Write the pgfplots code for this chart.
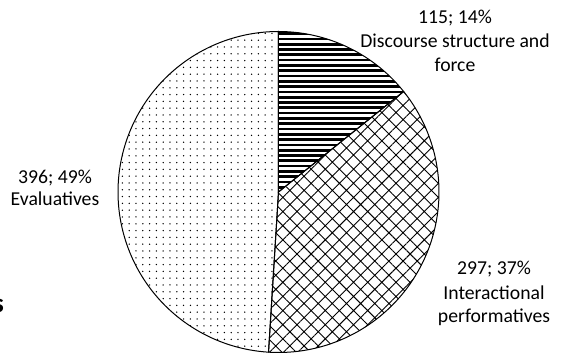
\documentclass[border=0pt]{standalone}
\usepackage{fontspec}
\setmainfont{Carlito}
\usepackage{pgfplots}
\usepackage{pgfplotstable}
\pgfplotsset{compat=1.18}
\usetikzlibrary{patterns.meta}

% solid horizontal stripes, drawn as filled bars so tiles overlap cleanly
\tikzdeclarepattern{
  name=hstripes,
  type=uncolored,
  bottom left={(-1pt,-1pt)},
  top right={(11pt,6.3pt)},
  tile size={(10pt,5.3pt)},
  code={\fill (-1pt,0pt) rectangle (11pt,2.7pt);}
}

\tikzset{lbl/.style={font=\fontsize{19.7}{23.5}\selectfont, inner sep=0pt, anchor=base}}

% Number of utterances per category
\pgfplotstableread{
cat value
Discourse 115
Interactional 297
Evaluatives 396
}\piedata

\begin{document}%
\begin{tikzpicture}
\pgfplotstablegetelem{0}{value}\of\piedata \let\va\pgfplotsretval
\pgfplotstablegetelem{1}{value}\of\piedata \let\vb\pgfplotsretval
\pgfplotstablegetelem{2}{value}\of\piedata \let\vc\pgfplotsretval
\pgfmathsetmacro{\total}{\va+\vb+\vc}
% slices run clockwise from twelve o'clock
\pgfmathsetmacro{\azero}{90}
\pgfmathsetmacro{\aone}{\azero-360*(\va/\total)}
\pgfmathsetmacro{\atwo}{\aone-360*(\vb/\total)}
\pgfmathsetmacro{\athree}{\atwo-360*(\vc/\total)}
\begin{axis}[
  hide axis, clip=false,
  x=160.5pt, y=160.5pt,
  xmin=-1.7352, xmax=1.7664,
  ymin=-1.00312, ymax=1.19626,
  samples=150,
]
\path (rel axis cs:0,0) rectangle (rel axis cs:1,1);

\addplot[draw=black, line width=1pt,
  pattern=hstripes,
  domain=\aone:\azero, variable=\t]
  ({cos(\t)}, {sin(\t)}) -- (axis cs:0,0) -- cycle;
\addplot[draw=black, line width=1pt,
  pattern={Hatch[angle=45, distance=10pt, line width=0.9pt]},
  domain=\atwo:\aone, variable=\t]
  ({cos(\t)}, {sin(\t)}) -- (axis cs:0,0) -- cycle;
\addplot[draw=black, line width=1pt,
  pattern={Dots[distance=6.8pt, radius=0.75pt]},
  domain=\athree:\atwo, variable=\t]
  ({cos(\t)}, {sin(\t)}) -- (axis cs:0,0) -- cycle;

% data labels
\node[lbl] at (axis cs:1.0997,1.0467) {115; 14\%};
\node[lbl] at (axis cs:1.0997,0.8972) {Discourse structure and};
\node[lbl] at (axis cs:1.0997,0.7477) {force};

\node[lbl] at (axis cs:-1.3925,0.0542) {396; 49\%};
\node[lbl] at (axis cs:-1.3925,-0.0872) {Evaluatives};

\node[lbl] at (axis cs:1.3427,-0.5171) {297; 37\%};
\node[lbl] at (axis cs:1.3427,-0.6685) {Interactional};
\node[lbl] at (axis cs:1.3427,-0.8143) {performatives};

% tail of a heading cut off at the left edge
\node[lbl, overlay, anchor=base east, font=\fontsize{27}{30}\selectfont\bfseries] at (axis cs:-1.7103,-0.7539) {s};
\end{axis}
\end{tikzpicture}%
\end{document}
